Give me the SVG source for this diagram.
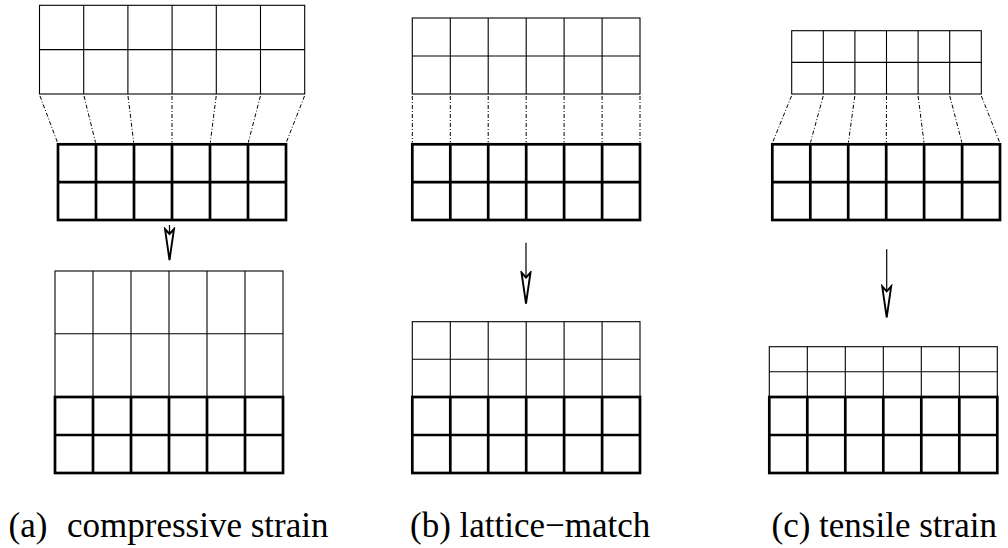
<svg xmlns="http://www.w3.org/2000/svg" width="1008" height="548" viewBox="0 0 1008 548">
<style>
.thin{fill:none;stroke:#000;stroke-width:1.1}
.thick{fill:none;stroke:#000;stroke-width:2.7}
.dd{fill:none;stroke:#000;stroke-width:1;stroke-dasharray:4 2 1 2}
.arr{fill:none;stroke:#000;stroke-width:1.2;marker-end:url(#head)}
.lbl{font-size:35px;fill:#000}
</style>
<defs>
<marker id="head" markerUnits="userSpaceOnUse" orient="auto" refX="31" refY="0" viewBox="-2 -7 35 14" markerWidth="35" markerHeight="14">
<path d="M0,-4.5 L31,0 L0,4.5 L5,0 Z" fill="#fff" stroke="#000" stroke-width="1.9" stroke-linejoin="miter"/>
</marker>
</defs>
<rect width="1008" height="548" fill="#fff"/>

<g id="a-top-layer">
<rect class="thin" x="39.5" y="5.3" width="265.2" height="88.7"/>
<path class="thin" d="M39.5 49.65H304.7M83.7 5.3V94M127.9 5.3V94M172.1 5.3V94M216.3 5.3V94M260.5 5.3V94"/>
</g>
<g id="a-top-substrate">
<rect class="thick" x="58" y="144.3" width="228" height="75.7"/>
<path class="thick" d="M58 182.2H286M96 144.3V220M134 144.3V220M172 144.3V220M210 144.3V220M248 144.3V220"/>
</g>
<g id="a-strained-layer">
<rect class="thin" x="55" y="271" width="228" height="125.7"/>
<path class="thin" d="M55 333.8H283M93 271V396.7M131 271V396.7M169 271V396.7M207 271V396.7M245 271V396.7"/>
</g>
<g id="a-bottom-substrate">
<rect class="thick" x="55" y="397" width="228" height="76"/>
<path class="thick" d="M55 435H283M93 397V473M131 397V473M169 397V473M207 397V473M245 397V473"/>
</g>

<g id="b-top-layer">
<rect class="thin" x="412.3" y="18" width="227.7" height="76"/>
<path class="thin" d="M412.3 56H640M450.3 18V94M488.2 18V94M526.2 18V94M564.1 18V94M602.1 18V94"/>
</g>
<g id="b-top-substrate">
<rect class="thick" x="412.3" y="144.3" width="227.7" height="75.7"/>
<path class="thick" d="M412.3 182.2H640M450.3 144.3V220M488.2 144.3V220M526.2 144.3V220M564.1 144.3V220M602.1 144.3V220"/>
</g>
<g id="b-matched-layer">
<rect class="thin" x="412.3" y="321.7" width="227.7" height="75"/>
<path class="thin" d="M412.3 359.2H640M450.3 321.7V396.7M488.2 321.7V396.7M526.2 321.7V396.7M564.1 321.7V396.7M602.1 321.7V396.7"/>
</g>
<g id="b-bottom-substrate">
<rect class="thick" x="412.3" y="397" width="227.7" height="76"/>
<path class="thick" d="M412.3 435H640M450.3 397V473M488.2 397V473M526.2 397V473M564.1 397V473M602.1 397V473"/>
</g>

<g id="c-top-layer">
<rect class="thin" x="791.7" y="30.7" width="189.6" height="63.3"/>
<path class="thin" d="M791.7 62.35H981.3M823.3 30.7V94M854.9 30.7V94M886.5 30.7V94M918.1 30.7V94M949.7 30.7V94"/>
</g>
<g id="c-top-substrate">
<rect class="thick" x="772.3" y="144.3" width="227.7" height="75.7"/>
<path class="thick" d="M772.3 182.2H1000M810.3 144.3V220M848.2 144.3V220M886.2 144.3V220M924.1 144.3V220M962.1 144.3V220"/>
</g>
<g id="c-strained-layer">
<rect class="thin" x="769.3" y="346.7" width="228" height="50"/>
<path class="thin" d="M769.3 371.7H997.3M807.3 346.7V396.7M845.3 346.7V396.7M883.3 346.7V396.7M921.3 346.7V396.7M959.3 346.7V396.7"/>
</g>
<g id="c-bottom-substrate">
<rect class="thick" x="769.3" y="397" width="228" height="76"/>
<path class="thick" d="M769.3 435H997.3M807.3 397V473M845.3 397V473M883.3 397V473M921.3 397V473M959.3 397V473"/>
</g>

<g id="connectors">
<path class="dd" d="M40 96L57.5 142.5M84 96L95.5 142.5M128 96L133.7 142.5M172 96L172 142.5M216.2 96L210.3 142.5M260.4 96L248.3 142.5M304.5 96L286.3 142.5"/>
<path class="dd" d="M412.3 96V142.5M450.3 96V142.5M488.2 96V142.5M526.2 96V142.5M564.1 96V142.5M602.1 96V142.5M640 96V142.5"/>
<path class="dd" d="M791.5 96L772.6 142.5M823.2 96L810.5 142.5M854.8 96L848.4 142.5M886.5 96L886.3 142.5M918.1 96L924 142.5M949.8 96L961.9 142.5M981.4 96L999.7 142.5"/>
<path class="arr" d="M169.5 225V260"/>
<path class="arr" d="M526 242.7V303.5"/>
<path class="arr" d="M886.7 249.3V317.3"/>
</g>

<g id="labels" font-family="'Liberation Serif', 'Times New Roman', serif">
<text class="lbl" x="8.5" y="537">(a)<tspan x="67">compressive strain</tspan></text>
<text class="lbl" x="410" y="537">(b) lattice−match</text>
<text class="lbl" x="771.5" y="537">(c) tensile strain</text>
</g>
</svg>
